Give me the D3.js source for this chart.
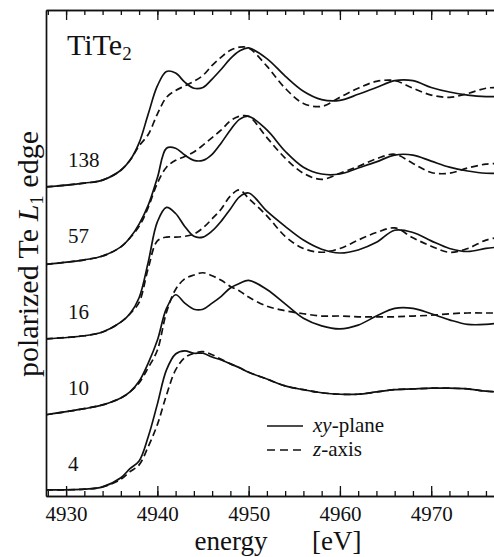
<!DOCTYPE html>
<html lang="en">
<head>
<meta charset="UTF-8">
<title>TiTe2 polarized Te L1 edge</title>
<script src="https://cdn.jsdelivr.net/npm/d3@7"></script>
<style>
  body { margin: 0; background: #fff; }
</style>
</head>
<body>
<div id="chart"></div>
<script>
// energy grid [eV]
var energy = [4927.8, 4932, 4934, 4936, 4937, 4938, 4939, 4940, 4941, 4942,
              4943, 4944, 4945, 4946, 4947, 4948, 4949, 4950, 4952, 4954,
              4956, 4958, 4960, 4962, 4964, 4966, 4968, 4970, 4972, 4974,
              4976, 4977.5];

// curve labels (bottom to top) and their vertical offsets
var labels = ["4", "10", "16", "57", "138"];
var offsets = [0, 1, 2, 3, 4];

// xy-plane (solid) and z-axis (dashed) spectra, one pair per label
var xy4   = [0, 0.01, 0.04, 0.16, 0.28, 0.38, 0.70, 1.13, 1.58, 1.79, 1.83, 1.80, 1.80, 1.75, 1.71, 1.66, 1.61, 1.55, 1.46, 1.37, 1.32, 1.28, 1.26, 1.26, 1.29, 1.32, 1.33, 1.34, 1.34, 1.33, 1.30, 1.29];
var z4    = [0, 0.01, 0.04, 0.14, 0.24, 0.33, 0.57, 0.86, 1.25, 1.58, 1.74, 1.80, 1.82, 1.78, 1.72, 1.66, 1.61, 1.55, 1.46, 1.37, 1.32, 1.28, 1.26, 1.26, 1.29, 1.32, 1.33, 1.34, 1.34, 1.33, 1.30, 1.29];
var xy10  = [-0.01, 0.07, 0.12, 0.21, 0.29, 0.43, 0.67, 0.97, 1.39, 1.57, 1.46, 1.38, 1.38, 1.46, 1.55, 1.66, 1.72, 1.76, 1.64, 1.45, 1.26, 1.16, 1.12, 1.17, 1.29, 1.39, 1.39, 1.32, 1.24, 1.18, 1.18, 1.20];
var z10   = [-0.01, 0.07, 0.12, 0.21, 0.29, 0.41, 0.61, 0.84, 1.34, 1.64, 1.78, 1.83, 1.86, 1.82, 1.76, 1.68, 1.62, 1.54, 1.42, 1.36, 1.32, 1.29, 1.29, 1.28, 1.28, 1.28, 1.29, 1.30, 1.32, 1.33, 1.33, 1.33];
var xy16  = [-0.01, 0.03, 0.08, 0.21, 0.32, 0.53, 1.00, 1.53, 1.72, 1.64, 1.47, 1.34, 1.33, 1.41, 1.54, 1.70, 1.86, 1.91, 1.67, 1.47, 1.29, 1.17, 1.12, 1.16, 1.26, 1.42, 1.39, 1.28, 1.18, 1.14, 1.18, 1.20];
var z16   = [-0.01, 0.03, 0.08, 0.21, 0.32, 0.47, 0.92, 1.28, 1.33, 1.33, 1.34, 1.37, 1.45, 1.57, 1.70, 1.87, 1.95, 1.84, 1.61, 1.34, 1.18, 1.13, 1.18, 1.29, 1.39, 1.45, 1.32, 1.21, 1.13, 1.18, 1.29, 1.33];
var xy57  = [-0.03, 0.03, 0.08, 0.20, 0.32, 0.50, 0.75, 1.11, 1.50, 1.50, 1.41, 1.34, 1.34, 1.42, 1.57, 1.74, 1.88, 1.92, 1.74, 1.46, 1.25, 1.16, 1.16, 1.24, 1.32, 1.41, 1.41, 1.33, 1.25, 1.20, 1.17, 1.17];
var z57   = [-0.03, 0.03, 0.08, 0.20, 0.32, 0.47, 0.72, 1.04, 1.25, 1.34, 1.39, 1.45, 1.54, 1.64, 1.74, 1.86, 1.92, 1.92, 1.64, 1.37, 1.17, 1.09, 1.17, 1.26, 1.36, 1.42, 1.30, 1.18, 1.17, 1.24, 1.29, 1.30];
var xy138 = [-0.01, 0.04, 0.08, 0.21, 0.34, 0.57, 0.95, 1.32, 1.51, 1.49, 1.37, 1.29, 1.30, 1.41, 1.54, 1.68, 1.78, 1.82, 1.68, 1.45, 1.25, 1.14, 1.13, 1.21, 1.30, 1.39, 1.39, 1.30, 1.24, 1.20, 1.18, 1.18];
var z138  = [-0.01, 0.04, 0.08, 0.21, 0.34, 0.53, 0.68, 0.95, 1.17, 1.26, 1.32, 1.38, 1.46, 1.59, 1.70, 1.79, 1.83, 1.82, 1.58, 1.29, 1.09, 1.05, 1.17, 1.29, 1.38, 1.39, 1.29, 1.20, 1.17, 1.22, 1.29, 1.30];

var solidSeries = [xy4, xy10, xy16, xy57, xy138];
var dashedSeries = [z4, z10, z16, z57, z138];

// tick values
var majorTicks = [4930, 4940, 4950, 4960, 4970];
var minorTicks = d3.range(4928, 4978, 2);

var width = 494, height = 557;
var plot = {left: 46, top: 10, right: 496, bottom: 496};
var serif = "'Liberation Serif', 'Times New Roman', serif";

var svg = d3.select("#chart").append("svg")
    .attr("width", width)
    .attr("height", height)
    .attr("font-family", serif);

var xScale = d3.scaleLinear().domain([4927.8, 4977.1]).range([plot.left, plot.right]);
var yScale = d3.scaleLinear().domain([-0.08, 6.32]).range([plot.bottom, plot.top]);

svg.append("clipPath").attr("id", "clip")
    .append("rect")
    .attr("x", plot.left).attr("y", plot.top)
    .attr("width", plot.right - plot.left).attr("height", plot.bottom - plot.top);

// axes: ticks point inward, no labels on top
svg.append("g")
    .attr("transform", "translate(0," + plot.bottom + ")")
    .call(d3.axisBottom(xScale).tickValues(minorTicks).tickSize(-5).tickSizeOuter(0).tickFormat(""));
var gBottom = svg.append("g")
    .attr("transform", "translate(0," + plot.bottom + ")")
    .call(d3.axisBottom(xScale).tickValues(majorTicks).tickSize(-10).tickSizeOuter(0).tickPadding(10).tickFormat(d3.format("d")));
svg.append("g")
    .attr("transform", "translate(0," + plot.top + ")")
    .call(d3.axisTop(xScale).tickValues(minorTicks).tickSize(-5).tickSizeOuter(0).tickFormat(""));
svg.append("g")
    .attr("transform", "translate(0," + plot.top + ")")
    .call(d3.axisTop(xScale).tickValues(majorTicks).tickSize(-10).tickSizeOuter(0).tickFormat(""));
svg.append("g")
    .attr("transform", "translate(" + plot.left + ",0)")
    .call(d3.axisLeft(yScale).tickValues([]).tickSizeOuter(0));

svg.selectAll(".domain").attr("stroke", "#111").attr("stroke-width", 1.7);
svg.selectAll(".tick line").attr("stroke", "#111").attr("stroke-width", 1.3);
gBottom.selectAll("text")
    .attr("font-size", 21)
    .attr("font-family", serif)
    .attr("fill", "#111");

// spectra
var curves = svg.append("g").attr("clip-path", "url(#clip)");

function lineFor(offset) {
    return d3.line()
        .x(function (d, i) { return xScale(energy[i]); })
        .y(function (d) { return yScale(d + offset); })
        .curve(d3.curveCatmullRom.alpha(0.5));
}

dashedSeries.forEach(function (s, k) {
    curves.append("path")
        .attr("d", lineFor(offsets[k])(s))
        .attr("fill", "none")
        .attr("stroke", "#111")
        .attr("stroke-width", 1.7)
        .attr("stroke-dasharray", "7,4");
});
solidSeries.forEach(function (s, k) {
    curves.append("path")
        .attr("d", lineFor(offsets[k])(s))
        .attr("fill", "none")
        .attr("stroke", "#111")
        .attr("stroke-width", 1.7);
});

// curve labels
svg.selectAll(".clabel")
    .data(labels)
    .enter()
    .append("text")
    .attr("class", "clabel")
    .attr("x", xScale(4930.2))
    .attr("y", function (d, i) { return yScale(offsets[i] + 0.25); })
    .attr("font-family", serif)
    .attr("font-size", 21)
    .attr("fill", "#111")
    .text(function (d) { return d; });

// compound name
var title = svg.append("text").attr("x", 67).attr("y", 55)
    .attr("font-family", serif).attr("font-size", 30).attr("fill", "#111");
title.append("tspan").text("TiTe");
title.append("tspan").attr("font-size", 19).attr("dy", 5).text("2");

// y title
var ytitle = svg.append("text")
    .attr("transform", "translate(38,254) rotate(-90)")
    .attr("text-anchor", "middle")
    .attr("font-family", serif)
    .attr("font-size", 30)
    .attr("fill", "#111");
ytitle.append("tspan").text("polarized Te ");
ytitle.append("tspan").attr("font-style", "italic").text("L");
ytitle.append("tspan").attr("font-size", 19).attr("dy", 5).text("1");
ytitle.append("tspan").attr("dy", -5).text(" edge");

// x title
svg.append("text").attr("x", 231).attr("y", 550).attr("text-anchor", "middle")
    .attr("font-family", serif).attr("font-size", 27).attr("fill", "#111").text("energy");
svg.append("text").attr("x", 312).attr("y", 550)
    .attr("font-family", serif).attr("font-size", 27).attr("fill", "#111").text("[eV]");

// legend
var legend = svg.append("g").attr("font-family", serif).attr("fill", "#111");
legend.append("line").attr("x1", 267).attr("x2", 303).attr("y1", 426).attr("y2", 426)
    .attr("stroke", "#111").attr("stroke-width", 1.6);
legend.append("line").attr("x1", 267).attr("x2", 303).attr("y1", 450).attr("y2", 450)
    .attr("stroke", "#111").attr("stroke-width", 1.6).attr("stroke-dasharray", "8,5");
var t1 = legend.append("text").attr("x", 313).attr("y", 432).attr("font-size", 21);
t1.append("tspan").attr("font-style", "italic").text("xy");
t1.append("tspan").text("-plane");
var t2 = legend.append("text").attr("x", 313).attr("y", 456).attr("font-size", 21);
t2.append("tspan").attr("font-style", "italic").text("z");
t2.append("tspan").text("-axis");
</script>
</body>
</html>
